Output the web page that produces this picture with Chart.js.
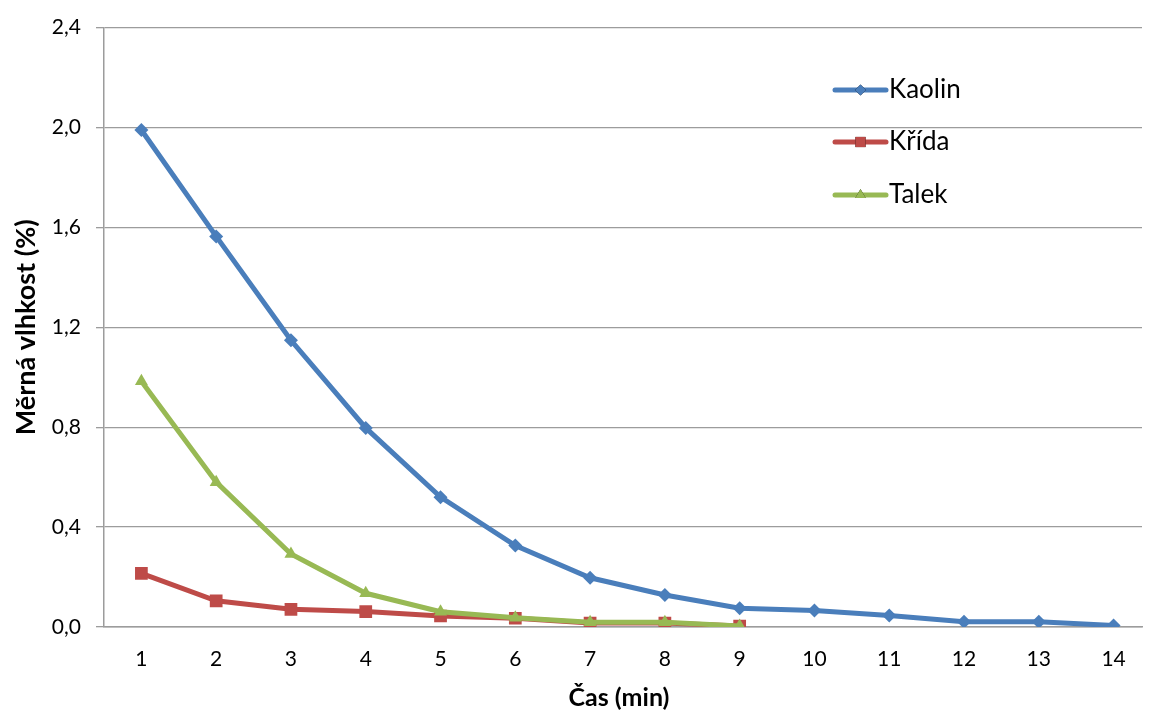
<!DOCTYPE html>
<html>
<head>
<meta charset="utf-8">
<title>Měrná vlhkost</title>
<script src="https://cdn.jsdelivr.net/npm/chart.js@4"></script>
<style>
  html, body { margin: 0; padding: 0; background: #fff; overflow: hidden; }
  #dryingChart { display: block; }
</style>
</head>
<body>
<canvas id="dryingChart" width="1151" height="713"></canvas>
<script>
// drying time in minutes
const minutes = [1, 2, 3, 4, 5, 6, 7, 8, 9, 10, 11, 12, 13, 14];

// specific moisture (%) per material
const kaolin = [1.99, 1.564, 1.148, 0.797, 0.52, 0.326, 0.197, 0.128, 0.075, 0.066, 0.046, 0.021, 0.021, 0.006];
const krida = [0.215, 0.105, 0.071, 0.062, 0.044, 0.035, 0.016, 0.016, 0.004];
const talek = [0.984, 0.58, 0.292, 0.135, 0.061, 0.037, 0.019, 0.019, 0.004];

const yTicks = [0, 0.4, 0.8, 1.2, 1.6, 2.0, 2.4];

const FONT = 'Lato, "Open Sans", sans-serif';
const GRID = '#9c9c9c';

// legend inside the plot, Excel style (line with marker in the middle),
// plus the x axis title which sits a bit left of the plot centre
const overlay = {
  id: 'overlay',
  afterDraw(chart) {
    const ctx = chart.ctx;
    const x0 = 835, x1 = 886;
    const rows = [90, 142, 195];
    chart.data.datasets.forEach((ds, i) => {
      const y = rows[i];
      ctx.save();
      ctx.strokeStyle = ds.borderColor;
      ctx.lineWidth = ds.borderWidth;
      ctx.lineCap = 'round';
      ctx.beginPath();
      ctx.moveTo(x0, y);
      ctx.lineTo(x1, y);
      ctx.stroke();
      Chart.helpers.drawPoint(ctx, {
        pointStyle: ds.pointStyle,
        radius: ds.pointRadius * 0.8,
        borderWidth: 0
      }, (x0 + x1) / 2, y);
      ctx.fillStyle = ds.backgroundColor;
      ctx.fill();
      ctx.fillStyle = '#000';
      ctx.font = '26px ' + FONT;
      ctx.textBaseline = 'middle';
      ctx.fillText(ds.label, x1 + 3, y);
      ctx.restore();
    });

    ctx.save();
    ctx.fillStyle = '#000';
    ctx.font = 'bold 25px ' + FONT;
    ctx.textAlign = 'center';
    ctx.textBaseline = 'middle';
    ctx.fillText('Čas (min)', 619, 698);
    ctx.restore();
  }
};

const ctx = document.getElementById('dryingChart').getContext('2d');

new Chart(ctx, {
  type: 'line',
  data: {
    labels: minutes,
    datasets: [
      {
        label: 'Kaolin',
        data: kaolin,
        borderColor: '#4A7EBB',
        backgroundColor: '#4A7EBB',
        borderWidth: 5,
        pointStyle: 'rectRot',
        pointRadius: 7,
        pointBorderWidth: 0,
        order: 3
      },
      {
        label: 'Křída',
        data: krida,
        borderColor: '#BE4B48',
        backgroundColor: '#BE4B48',
        borderWidth: 5,
        pointStyle: 'rect',
        pointRadius: 9,
        pointBorderWidth: 0,
        order: 2
      },
      {
        label: 'Talek',
        data: talek,
        borderColor: '#98B954',
        backgroundColor: '#98B954',
        borderWidth: 5,
        pointStyle: 'triangle',
        pointRadius: 7.5,
        pointBorderWidth: 0,
        order: 1
      }
    ]
  },
  options: {
    responsive: false,
    animation: false,
    devicePixelRatio: 1,
    layout: { padding: { top: 27, right: 0, bottom: 0, left: 0 } },
    plugins: {
      legend: { display: false },
      tooltip: { enabled: false }
    },
    scales: {
      x: {
        type: 'linear',
        // half a step before the first minute; the plot runs on past the right edge
        min: 0.5,
        max: 14.38,
        grid: { display: true, drawOnChartArea: false, drawTicks: false, color: GRID },
        border: { display: true, color: GRID, width: 1.5 },
        afterBuildTicks(scale) { scale.ticks = minutes.map(v => ({ value: v })); },
        ticks: { color: '#000', font: { family: FONT, size: 21 }, padding: 20, maxRotation: 0 },
        afterFit(scale) { scale.height = 86; }
      },
      y: {
        min: 0,
        max: 2.4,
        grid: { color: GRID, lineWidth: 1.3, tickLength: 8 },
        border: { display: true, color: GRID, width: 1.5 },
        afterBuildTicks(scale) { scale.ticks = yTicks.map(v => ({ value: v })); },
        ticks: {
          color: '#000',
          font: { family: FONT, size: 21 },
          padding: 15,
          callback: v => v.toFixed(1).replace('.', ',')
        },
        title: {
          display: true,
          text: 'Měrná vlhkost (%)',
          color: '#000',
          font: { family: FONT, size: 27, weight: 'bold' },
          padding: { top: 10, bottom: 0 }
        },
        afterFit(scale) { scale.width = 104; }
      }
    }
  },
  plugins: [overlay]
});
</script>
</body>
</html>
